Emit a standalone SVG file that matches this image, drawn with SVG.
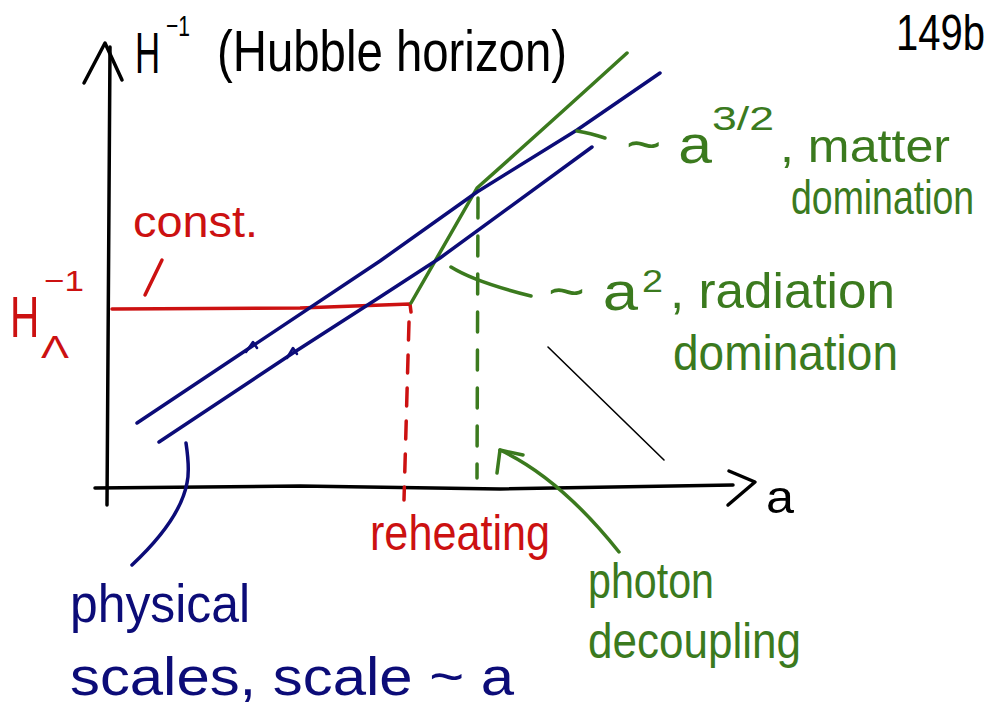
<svg xmlns="http://www.w3.org/2000/svg" width="990" height="713" viewBox="0 0 990 713">
<style>
.t{font-family:"Liberation Sans","DejaVu Sans",sans-serif;}
.k{fill:#000}
.r{fill:#cc1111}
.g{fill:#3b7a1e}
.b{fill:#0c0c78}
.sk{stroke:#000;fill:none;stroke-width:3.5;stroke-linecap:round;stroke-linejoin:round}
.sr{stroke:#cc1111;fill:none;stroke-width:3.5;stroke-linecap:round;stroke-linejoin:round}
.sg{stroke:#3b7a1e;fill:none;stroke-width:3.5;stroke-linecap:round;stroke-linejoin:round}
.sb{stroke:#0c0c78;fill:none;stroke-width:3.5;stroke-linecap:round;stroke-linejoin:round}
.thin{stroke-width:1.6}
.tick{stroke-width:2.5}
</style>
<rect width="990" height="713" fill="#fff"/>
<g id="connectors">
  <path class="sk" d="M110,47 L107,505"/>
  <path class="sk" d="M84,83 L105,43 L122,80"/>
  <path class="sk" d="M95,488 L300,486 L500,489 L733,485"/>
  <path class="sk" d="M729,471 L755,482 L728,505"/>
  <path class="sr" d="M112,309 L300,308 L410,304 L411,312"/>
  <path class="sr" d="M409,322 L404,500" stroke-dasharray="18 15"/>
  <path class="sg" d="M411,303 L477,188 Q540,132 627,53"/>
  <path class="sg" d="M478,198 L477,478" stroke-dasharray="20 18"/>
  <path class="sb" d="M137,423 L380,261 L477,192 L577,130 L660,73"/>
  <path class="sb" d="M159,442 L293,353 L380,297 L440,258 L592,147"/>
  <path class="sb tick" d="M246,352 L253,342 L257,348"/>
  <path class="sb tick" d="M287,358 L293,348 L297,354"/>
  <path class="sg" d="M451,267 Q475,282 531,296"/>
  <path class="sg" d="M577,131 Q590,133 605,138"/>
  <path class="sk thin" d="M548,347 L664,460"/>
  <path class="sg" d="M619,552 Q560,478 500,450"/>
  <path class="sg" d="M523,455 L500,450 L497,473"/>
  <path class="sb" d="M186,443 Q190,470 187,483 Q180,520 132,565"/>
  <path class="sr" d="M162,260 L145,295"/>
</g>
<g id="y-label">
  <text class="t k" transform="translate(135,73) scale(0.6,1)" font-size="58">H</text>
  <text class="t k" x="166" y="36" font-size="30" textLength="24" lengthAdjust="spacingAndGlyphs">−1</text>
  <text class="t k" x="217" y="71" font-size="58" textLength="350" lengthAdjust="spacingAndGlyphs">(Hubble horizon)</text>
</g>
<g id="page-number">
  <text class="t k" transform="translate(896,50) scale(0.8,1)" font-size="50">149b</text>
</g>
<g id="x-label">
  <text class="t k" x="766" y="513" font-size="46" textLength="28" lengthAdjust="spacingAndGlyphs">a</text>
</g>
<g id="const">
  <text class="t r" x="133" y="237" font-size="44" textLength="125" lengthAdjust="spacingAndGlyphs">const.</text>
</g>
<g id="H-lambda">
  <text class="t r" transform="translate(10,337) scale(0.7,1)" font-size="58">H</text>
  <text class="t r" x="41" y="358" font-size="32" textLength="28" lengthAdjust="spacingAndGlyphs">Λ</text>
  <text class="t r" x="44" y="291" font-size="30" textLength="40" lengthAdjust="spacingAndGlyphs">−1</text>
</g>
<g id="matter">
  <text class="t g" x="626" y="163" font-size="54" textLength="86" lengthAdjust="spacingAndGlyphs">~ a</text>
  <text class="t g" x="712" y="130" font-size="34" textLength="62" lengthAdjust="spacingAndGlyphs">3/2</text>
  <text class="t g" x="780" y="162" font-size="46" textLength="170" lengthAdjust="spacingAndGlyphs">, matter</text>
  <text class="t g" transform="translate(791,214) scale(0.78,1)" font-size="48">domination</text>
</g>
<g id="radiation">
  <text class="t g" x="548" y="310" font-size="54" textLength="90" lengthAdjust="spacingAndGlyphs">~ a</text>
  <text class="t g" x="642" y="292" font-size="32" textLength="21" lengthAdjust="spacingAndGlyphs">2</text>
  <text class="t g" x="670" y="308" font-size="50" textLength="225" lengthAdjust="spacingAndGlyphs">, radiation</text>
  <text class="t g" x="673" y="370" font-size="50" textLength="225" lengthAdjust="spacingAndGlyphs">domination</text>
</g>
<g id="reheating">
  <text class="t r" x="370" y="550" font-size="50" textLength="180" lengthAdjust="spacingAndGlyphs">reheating</text>
</g>
<g id="photon-decoupling">
  <text class="t g" x="588" y="598" font-size="50" textLength="126" lengthAdjust="spacingAndGlyphs">photon</text>
  <text class="t g" x="588" y="658" font-size="50" textLength="213" lengthAdjust="spacingAndGlyphs">decoupling</text>
</g>
<g id="physical-scales">
  <text class="t b" x="70" y="622" font-size="54" textLength="180" lengthAdjust="spacingAndGlyphs">physical</text>
  <text class="t b" x="70" y="695" font-size="54" textLength="444" lengthAdjust="spacingAndGlyphs">scales, scale ~ a</text>
</g>
</svg>
